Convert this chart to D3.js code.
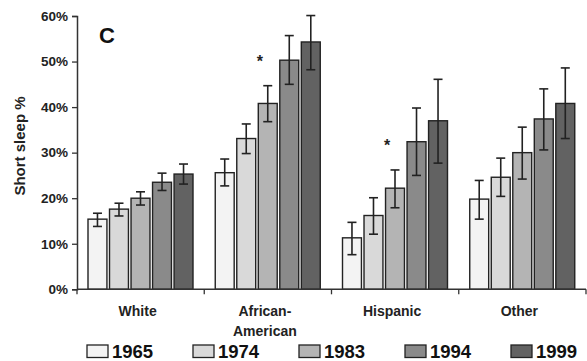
<!DOCTYPE html>
<html><head><meta charset="utf-8">
<script src="https://cdn.jsdelivr.net/npm/d3@7"></script>
<style>html,body{margin:0;padding:0;background:#fff;}svg{display:block;font-family:"Liberation Sans",Arial,sans-serif;}</style>
</head><body><div id="chart"></div>
<script>
const categories = ["White", "African-American", "Hispanic", "Other"];
const categoryLines = [["White"], ["African-", "American"], ["Hispanic"], ["Other"]];
const years = ["1965", "1974", "1983", "1994", "1999"];
const yearColors = ["#f3f3f3", "#d9d9d9", "#b4b4b4", "#8a8a8a", "#626262"];
// Short sleep % by year, one array per category
const white = [15.4, 17.6, 20.0, 23.5, 25.3];
const africanAmerican = [25.6, 33.1, 40.8, 50.3, 54.3];
const hispanic = [11.3, 16.2, 22.2, 32.4, 37.0];
const other = [19.8, 24.6, 30.0, 37.4, 40.8];
// error bar lower / upper bounds
const whiteLow = [13.8, 16.1, 18.5, 21.7, 23.1];
const whiteHigh = [16.7, 18.9, 21.4, 25.5, 27.5];
const africanAmericanLow = [22.7, 29.8, 36.8, 45.0, 48.2];
const africanAmericanHigh = [28.6, 36.3, 44.7, 55.7, 60.1];
const hispanicLow = [7.6, 12.1, 17.9, 25.0, 27.7];
const hispanicHigh = [14.7, 20.1, 26.2, 39.8, 46.1];
const otherLow = [15.4, 20.4, 24.2, 30.6, 33.1];
const otherHigh = [23.9, 28.8, 35.6, 44.0, 48.6];
const yTicks = [0, 10, 20, 30, 40, 50, 60];
const significant = [["African-American", "1983"], ["Hispanic", "1983"]];
const panelLabel = "C";
const yTitle = "Short sleep %";

const valuesByCat = [white, africanAmerican, hispanic, other];
const lowByCat = [whiteLow, africanAmericanLow, hispanicLow, otherLow];
const highByCat = [whiteHigh, africanAmericanHigh, hispanicHigh, otherHigh];
const rows = [];
categories.forEach((c, ci) => years.forEach((y, yi) => rows.push({
  cat: c, year: y, yi, v: valuesByCat[ci][yi], lo: lowByCat[ci][yi], hi: highByCat[ci][yi]
})));

const W = 587, H = 361;
const svg = d3.select("#chart").append("svg").attr("width", W).attr("height", H);
const x0 = d3.scaleBand().domain(categories).range([77, 586]);
const x1 = d3.scaleBand().domain(years).range([11, 116]).paddingInner(0.12);
const y = d3.scaleLinear().domain([0, 60]).range([289.3, 16]);
const color = d3.scaleOrdinal().domain(years).range(yearColors);
const ink = "#222";

// bars
svg.append("g").selectAll("rect").data(rows).join("rect")
  .attr("x", d => x0(d.cat) + x1(d.year))
  .attr("y", d => y(d.v))
  .attr("width", x1.bandwidth())
  .attr("height", d => y(0) - y(d.v))
  .attr("fill", d => color(d.year))
  .attr("stroke", ink).attr("stroke-width", 1.4);

// error bars
const eb = svg.append("g").attr("stroke", ink).attr("stroke-width", 1.6);
rows.forEach(d => {
  const cx = x0(d.cat) + x1(d.year) + x1.bandwidth() / 2;
  eb.append("line").attr("x1", cx).attr("x2", cx).attr("y1", y(d.hi)).attr("y2", y(d.lo));
  eb.append("line").attr("x1", cx - 4.5).attr("x2", cx + 4.5).attr("y1", y(d.hi)).attr("y2", y(d.hi));
  eb.append("line").attr("x1", cx - 4.5).attr("x2", cx + 4.5).attr("y1", y(d.lo)).attr("y2", y(d.lo));
});

// asterisks
significant.forEach(([c, yr]) => {
  const r = rows.find(d => d.cat === c && d.year === yr);
  svg.append("text").attr("x", x0(c) + x1(yr) + x1.bandwidth() / 2 - 8)
    .attr("y", y(r.hi) - 19).attr("text-anchor", "middle")
    .attr("font-size", 16).attr("font-weight", "bold").attr("fill", ink).text("*");
});

// y axis
const yAxis = svg.append("g").attr("transform", "translate(77,0)")
  .call(d3.axisLeft(y).tickValues(yTicks).tickFormat(d => d + "%").tickSize(5).tickPadding(4));
yAxis.select(".domain").attr("stroke", "#333").attr("stroke-width", 1.5);
yAxis.selectAll(".tick line").attr("stroke", "#333").attr("stroke-width", 1.3);
yAxis.selectAll(".tick text").attr("font-size", 13.5).attr("font-weight", "bold").attr("fill", "#222")
  .attr("font-family", "Liberation Sans, Arial, sans-serif");

// x axis
const xg = svg.append("g");
xg.append("line").attr("x1", 77).attr("x2", 586).attr("y1", y(0)).attr("y2", y(0))
  .attr("stroke", "#333").attr("stroke-width", 1.5);
const bounds = categories.map(c => x0(c)).concat([x0.range()[1]]);
xg.selectAll("line.t").data(bounds).join("line").attr("class", "t")
  .attr("x1", d => d).attr("x2", d => d).attr("y1", y(0)).attr("y2", y(0) + 5)
  .attr("stroke", "#333").attr("stroke-width", 1.3);
categories.forEach((c, ci) => {
  const t = svg.append("text").attr("x", x0(c) + x0.bandwidth() / 2 - 3).attr("y", 316)
    .attr("text-anchor", "middle").attr("font-size", 14).attr("font-weight", "bold").attr("fill", "#222");
  categoryLines[ci].forEach((ln, li) => t.append("tspan").attr("x", x0(c) + x0.bandwidth() / 2 - 3)
    .attr("dy", li === 0 ? 0 : 20).text(ln));
});

// y title
svg.append("text").attr("transform", "translate(25,146) rotate(-90)").attr("text-anchor", "middle")
  .attr("font-size", 15).attr("font-weight", "bold").attr("fill", "#222").text(yTitle);

// panel label
svg.append("text").attr("x", 99).attr("y", 43).attr("font-size", 22).attr("font-weight", "bold")
  .attr("fill", "#111").text(panelLabel);

// legend
const lx = d3.scalePoint().domain(years).range([87, 511]);
const lg = svg.append("g").selectAll("g").data(years).join("g")
  .attr("transform", d => `translate(${lx(d)},0)`);
lg.append("rect").attr("x", 0).attr("y", 345).attr("width", 21).attr("height", 12.5)
  .attr("fill", d => color(d)).attr("stroke", ink).attr("stroke-width", 1.3);
lg.append("text").attr("x", 25).attr("y", 357.5).attr("font-size", 18.5).attr("font-weight", "bold")
  .attr("fill", "#111").text(d => d);
</script></body></html>
